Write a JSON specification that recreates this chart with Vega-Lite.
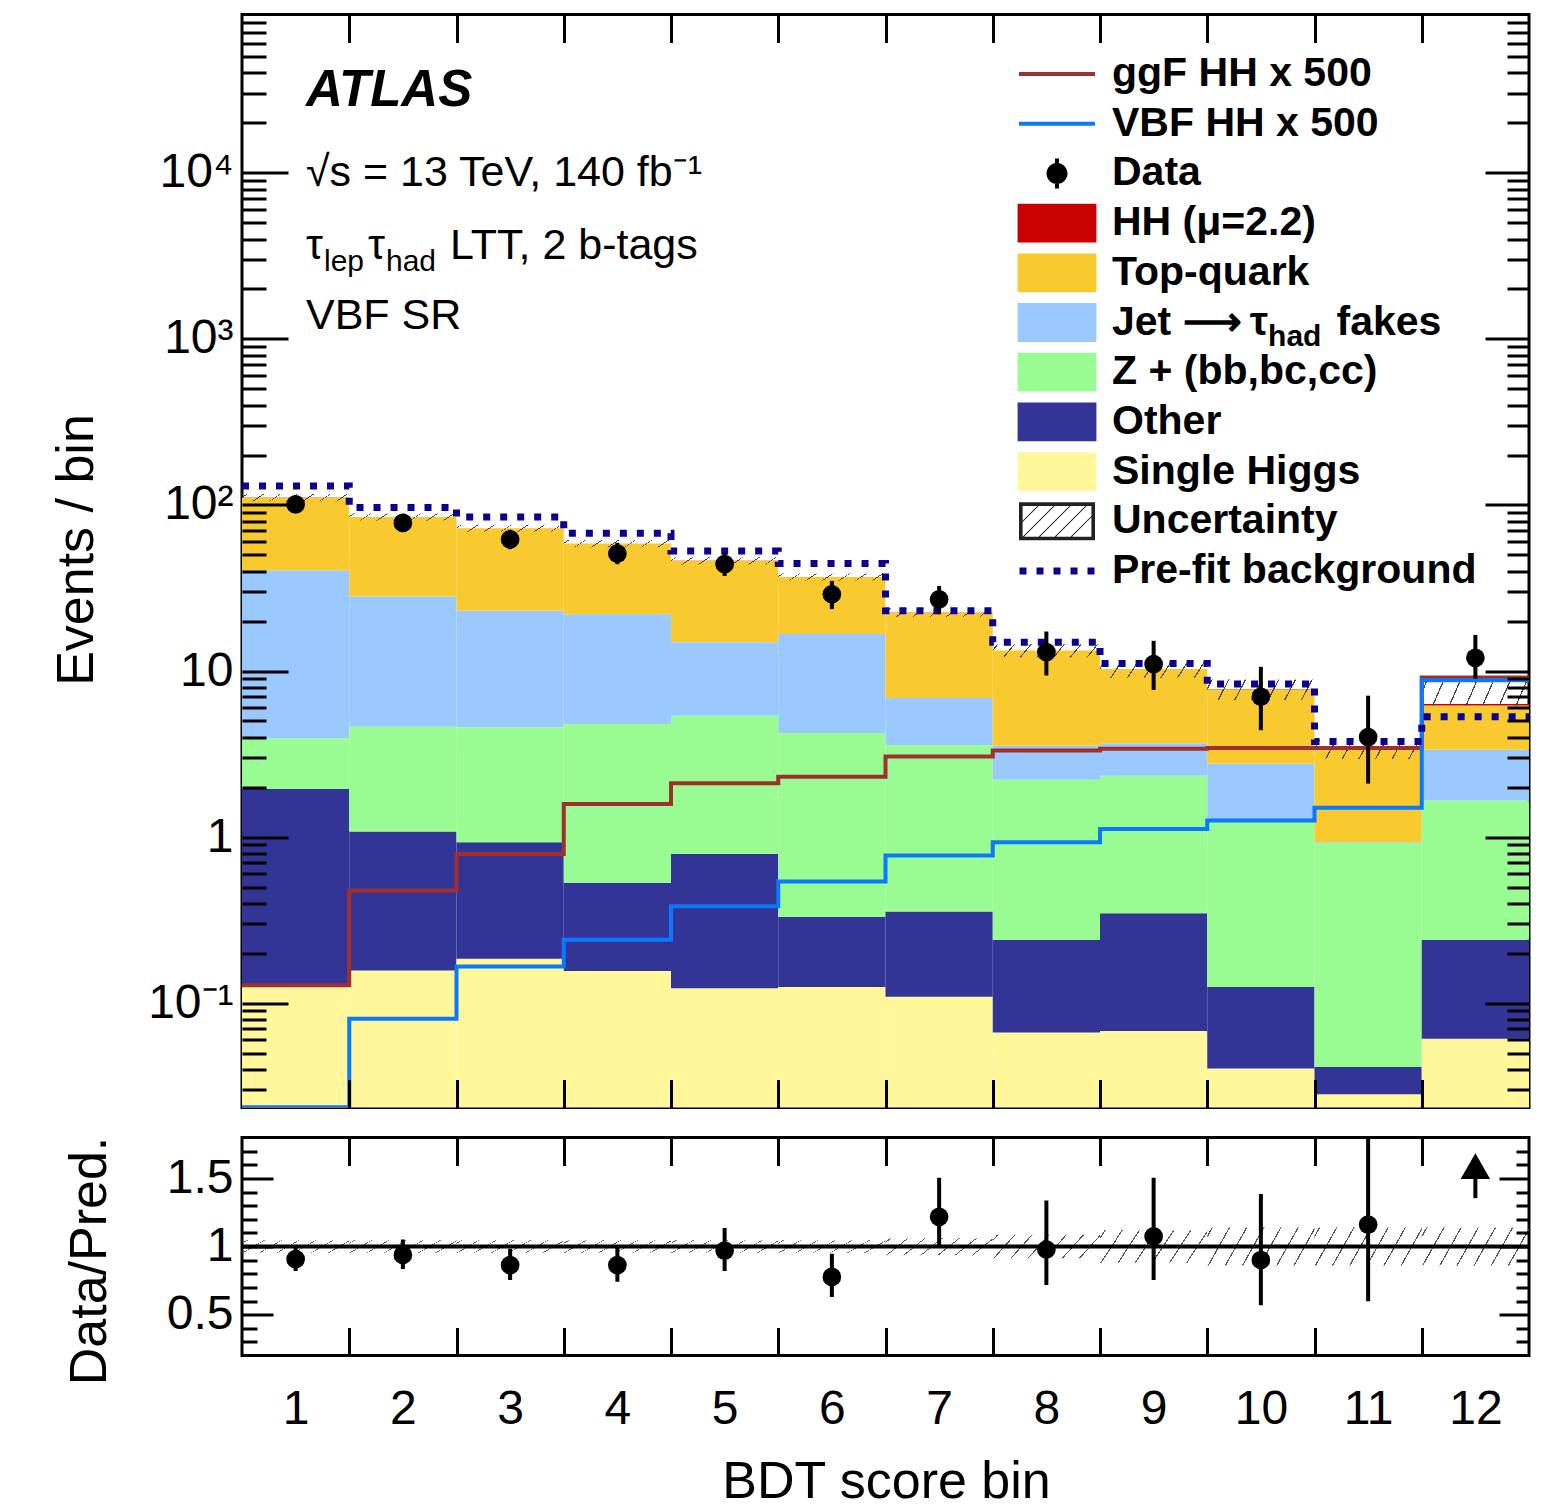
{
  "$schema": "https://vega.github.io/schema/vega-lite/v6.json",
  "autosize": {"type": "pad"},
  "padding": {"left": 48, "top": -3.5, "right": 0, "bottom": 0},
  "background": "white",
  "datasets": {
    "stack": [
      {"bin": 1, "lo": 0.5, "hi": 1.5, "process": "Single Higgs", "bottom": 0.001, "top": 0.128},
      {"bin": 1, "lo": 0.5, "hi": 1.5, "process": "Other", "bottom": 0.128, "top": 1.95},
      {"bin": 1, "lo": 0.5, "hi": 1.5, "process": "Z + (bb,bc,cc)", "bottom": 1.95, "top": 3.93},
      {"bin": 1, "lo": 0.5, "hi": 1.5, "process": "Jet → τhad fakes", "bottom": 3.93, "top": 40.5},
      {"bin": 1, "lo": 0.5, "hi": 1.5, "process": "Top-quark", "bottom": 40.5, "top": 110.7},
      {"bin": 1, "lo": 0.5, "hi": 1.5, "process": "HH (μ=2.2)", "bottom": 110.7, "top": 110.8},
      {"bin": 2, "lo": 1.5, "hi": 2.5, "process": "Single Higgs", "bottom": 0.001, "top": 0.157},
      {"bin": 2, "lo": 1.5, "hi": 2.5, "process": "Other", "bottom": 0.157, "top": 1.08},
      {"bin": 2, "lo": 1.5, "hi": 2.5, "process": "Z + (bb,bc,cc)", "bottom": 1.08, "top": 4.62},
      {"bin": 2, "lo": 1.5, "hi": 2.5, "process": "Jet → τhad fakes", "bottom": 4.62, "top": 28.1},
      {"bin": 2, "lo": 1.5, "hi": 2.5, "process": "Top-quark", "bottom": 28.1, "top": 84.75},
      {"bin": 2, "lo": 1.5, "hi": 2.5, "process": "HH (μ=2.2)", "bottom": 84.75, "top": 84.8},
      {"bin": 3, "lo": 2.5, "hi": 3.5, "process": "Single Higgs", "bottom": 0.001, "top": 0.185},
      {"bin": 3, "lo": 2.5, "hi": 3.5, "process": "Other", "bottom": 0.185, "top": 0.93},
      {"bin": 3, "lo": 2.5, "hi": 3.5, "process": "Z + (bb,bc,cc)", "bottom": 0.93, "top": 4.58},
      {"bin": 3, "lo": 2.5, "hi": 3.5, "process": "Jet → τhad fakes", "bottom": 4.58, "top": 23.1},
      {"bin": 3, "lo": 2.5, "hi": 3.5, "process": "Top-quark", "bottom": 23.1, "top": 72.45},
      {"bin": 3, "lo": 2.5, "hi": 3.5, "process": "HH (μ=2.2)", "bottom": 72.45, "top": 72.5},
      {"bin": 4, "lo": 3.5, "hi": 4.5, "process": "Single Higgs", "bottom": 0.001, "top": 0.156},
      {"bin": 4, "lo": 3.5, "hi": 4.5, "process": "Other", "bottom": 0.156, "top": 0.53},
      {"bin": 4, "lo": 3.5, "hi": 4.5, "process": "Z + (bb,bc,cc)", "bottom": 0.53, "top": 4.8},
      {"bin": 4, "lo": 3.5, "hi": 4.5, "process": "Jet → τhad fakes", "bottom": 4.8, "top": 22.0},
      {"bin": 4, "lo": 3.5, "hi": 4.5, "process": "Top-quark", "bottom": 22.0, "top": 58.55},
      {"bin": 4, "lo": 3.5, "hi": 4.5, "process": "HH (μ=2.2)", "bottom": 58.55, "top": 58.6},
      {"bin": 5, "lo": 4.5, "hi": 5.5, "process": "Single Higgs", "bottom": 0.001, "top": 0.123},
      {"bin": 5, "lo": 4.5, "hi": 5.5, "process": "Other", "bottom": 0.123, "top": 0.79},
      {"bin": 5, "lo": 4.5, "hi": 5.5, "process": "Z + (bb,bc,cc)", "bottom": 0.79, "top": 5.38},
      {"bin": 5, "lo": 4.5, "hi": 5.5, "process": "Jet → τhad fakes", "bottom": 5.38, "top": 14.9},
      {"bin": 5, "lo": 4.5, "hi": 5.5, "process": "Top-quark", "bottom": 14.9, "top": 46.05},
      {"bin": 5, "lo": 4.5, "hi": 5.5, "process": "HH (μ=2.2)", "bottom": 46.05, "top": 46.1},
      {"bin": 6, "lo": 5.5, "hi": 6.5, "process": "Single Higgs", "bottom": 0.001, "top": 0.125},
      {"bin": 6, "lo": 5.5, "hi": 6.5, "process": "Other", "bottom": 0.125, "top": 0.33},
      {"bin": 6, "lo": 5.5, "hi": 6.5, "process": "Z + (bb,bc,cc)", "bottom": 0.33, "top": 4.24},
      {"bin": 6, "lo": 5.5, "hi": 6.5, "process": "Jet → τhad fakes", "bottom": 4.24, "top": 16.7},
      {"bin": 6, "lo": 5.5, "hi": 6.5, "process": "Top-quark", "bottom": 16.7, "top": 36.85},
      {"bin": 6, "lo": 5.5, "hi": 6.5, "process": "HH (μ=2.2)", "bottom": 36.85, "top": 36.9},
      {"bin": 7, "lo": 6.5, "hi": 7.5, "process": "Single Higgs", "bottom": 0.001, "top": 0.109},
      {"bin": 7, "lo": 6.5, "hi": 7.5, "process": "Other", "bottom": 0.109, "top": 0.356},
      {"bin": 7, "lo": 6.5, "hi": 7.5, "process": "Z + (bb,bc,cc)", "bottom": 0.356, "top": 3.59},
      {"bin": 7, "lo": 6.5, "hi": 7.5, "process": "Jet → τhad fakes", "bottom": 3.59, "top": 6.88},
      {"bin": 7, "lo": 6.5, "hi": 7.5, "process": "Top-quark", "bottom": 6.88, "top": 22.45},
      {"bin": 7, "lo": 6.5, "hi": 7.5, "process": "HH (μ=2.2)", "bottom": 22.45, "top": 22.5},
      {"bin": 8, "lo": 7.5, "hi": 8.5, "process": "Single Higgs", "bottom": 0.001, "top": 0.0664},
      {"bin": 8, "lo": 7.5, "hi": 8.5, "process": "Other", "bottom": 0.0664, "top": 0.241},
      {"bin": 8, "lo": 7.5, "hi": 8.5, "process": "Z + (bb,bc,cc)", "bottom": 0.241, "top": 2.21},
      {"bin": 8, "lo": 7.5, "hi": 8.5, "process": "Jet → τhad fakes", "bottom": 2.21, "top": 3.55},
      {"bin": 8, "lo": 7.5, "hi": 8.5, "process": "Top-quark", "bottom": 3.55, "top": 13.27},
      {"bin": 8, "lo": 7.5, "hi": 8.5, "process": "HH (μ=2.2)", "bottom": 13.27, "top": 13.3},
      {"bin": 9, "lo": 8.5, "hi": 9.5, "process": "Single Higgs", "bottom": 0.001, "top": 0.068},
      {"bin": 9, "lo": 8.5, "hi": 9.5, "process": "Other", "bottom": 0.068, "top": 0.348},
      {"bin": 9, "lo": 8.5, "hi": 9.5, "process": "Z + (bb,bc,cc)", "bottom": 0.348, "top": 2.34},
      {"bin": 9, "lo": 8.5, "hi": 9.5, "process": "Jet → τhad fakes", "bottom": 2.34, "top": 3.67},
      {"bin": 9, "lo": 8.5, "hi": 9.5, "process": "Top-quark", "bottom": 3.67, "top": 10.27},
      {"bin": 9, "lo": 8.5, "hi": 9.5, "process": "HH (μ=2.2)", "bottom": 10.27, "top": 10.3},
      {"bin": 10, "lo": 9.5, "hi": 10.5, "process": "Single Higgs", "bottom": 0.001, "top": 0.0403},
      {"bin": 10, "lo": 9.5, "hi": 10.5, "process": "Other", "bottom": 0.0403, "top": 0.125},
      {"bin": 10, "lo": 9.5, "hi": 10.5, "process": "Z + (bb,bc,cc)", "bottom": 0.125, "top": 1.23},
      {"bin": 10, "lo": 9.5, "hi": 10.5, "process": "Jet → τhad fakes", "bottom": 1.23, "top": 2.76},
      {"bin": 10, "lo": 9.5, "hi": 10.5, "process": "Top-quark", "bottom": 2.76, "top": 7.76},
      {"bin": 10, "lo": 9.5, "hi": 10.5, "process": "HH (μ=2.2)", "bottom": 7.76, "top": 7.79},
      {"bin": 11, "lo": 10.5, "hi": 11.5, "process": "Single Higgs", "bottom": 0.001, "top": 0.0282},
      {"bin": 11, "lo": 10.5, "hi": 11.5, "process": "Other", "bottom": 0.0282, "top": 0.0412},
      {"bin": 11, "lo": 10.5, "hi": 11.5, "process": "Z + (bb,bc,cc)", "bottom": 0.0412, "top": 0.92},
      {"bin": 11, "lo": 10.5, "hi": 11.5, "process": "Jet → τhad fakes", "bottom": 0.92, "top": 0.93},
      {"bin": 11, "lo": 10.5, "hi": 11.5, "process": "Top-quark", "bottom": 0.93, "top": 3.38},
      {"bin": 11, "lo": 10.5, "hi": 11.5, "process": "HH (μ=2.2)", "bottom": 3.38, "top": 3.4},
      {"bin": 12, "lo": 11.5, "hi": 12.5, "process": "Single Higgs", "bottom": 0.001, "top": 0.061},
      {"bin": 12, "lo": 11.5, "hi": 12.5, "process": "Other", "bottom": 0.061, "top": 0.241},
      {"bin": 12, "lo": 11.5, "hi": 12.5, "process": "Z + (bb,bc,cc)", "bottom": 0.241, "top": 1.66},
      {"bin": 12, "lo": 11.5, "hi": 12.5, "process": "Jet → τhad fakes", "bottom": 1.66, "top": 3.36},
      {"bin": 12, "lo": 11.5, "hi": 12.5, "process": "Top-quark", "bottom": 3.36, "top": 6.2},
      {"bin": 12, "lo": 11.5, "hi": 12.5, "process": "HH (μ=2.2)", "bottom": 6.2, "top": 6.33}
    ],
    "unc": [
      {"bin": 1, "lo": 0.5, "hi": 1.5, "dn": 105.3, "up": 116.3},
      {"bin": 2, "lo": 1.5, "hi": 2.5, "dn": 80.6, "up": 89.0},
      {"bin": 3, "lo": 2.5, "hi": 3.5, "dn": 68.9, "up": 76.1},
      {"bin": 4, "lo": 3.5, "hi": 4.5, "dn": 55.7, "up": 61.5},
      {"bin": 5, "lo": 4.5, "hi": 5.5, "dn": 43.8, "up": 48.4},
      {"bin": 6, "lo": 5.5, "hi": 6.5, "dn": 35.1, "up": 38.7},
      {"bin": 7, "lo": 6.5, "hi": 7.5, "dn": 21.2, "up": 23.9},
      {"bin": 8, "lo": 7.5, "hi": 8.5, "dn": 12.1, "up": 14.5},
      {"bin": 9, "lo": 8.5, "hi": 9.5, "dn": 9.1, "up": 11.5},
      {"bin": 10, "lo": 9.5, "hi": 10.5, "dn": 6.7, "up": 8.9},
      {"bin": 11, "lo": 10.5, "hi": 11.5, "dn": 2.95, "up": 3.85},
      {"bin": 12, "lo": 11.5, "hi": 12.5, "dn": 6.2, "up": 8.7}
    ],
    "lines": [
      {"edge": 0.5, "ggF": 0.128, "VBF": 0.0236, "prefit": 130},
      {"edge": 1.5, "ggF": 0.477, "VBF": 0.0805, "prefit": 96.5},
      {"edge": 2.5, "ggF": 0.79, "VBF": 0.166, "prefit": 84.8},
      {"edge": 3.5, "ggF": 1.58, "VBF": 0.241, "prefit": 67.6},
      {"edge": 4.5, "ggF": 2.11, "VBF": 0.383, "prefit": 52.9},
      {"edge": 5.5, "ggF": 2.31, "VBF": 0.54, "prefit": 44.4},
      {"edge": 6.5, "ggF": 3.06, "VBF": 0.774, "prefit": 23.1},
      {"edge": 7.5, "ggF": 3.32, "VBF": 0.93, "prefit": 14.9},
      {"edge": 8.5, "ggF": 3.4, "VBF": 1.12, "prefit": 11.1},
      {"edge": 9.5, "ggF": 3.44, "VBF": 1.26, "prefit": 8.35},
      {"edge": 10.5, "ggF": 3.44, "VBF": 1.5, "prefit": 3.76},
      {"edge": 11.5, "ggF": 9.15, "VBF": 8.8, "prefit": 5.31},
      {"edge": 12.5, "ggF": 9.15, "VBF": 8.8, "prefit": 5.31}
    ],
    "data": [
      {"bin": 1, "n": 101, "lo": 91.0, "hi": 111.1},
      {"bin": 2, "n": 78, "lo": 69.3, "hi": 87.8},
      {"bin": 3, "n": 62, "lo": 54.2, "hi": 70.9},
      {"bin": 4, "n": 51, "lo": 44.0, "hi": 59.2},
      {"bin": 5, "n": 44, "lo": 37.4, "hi": 51.7},
      {"bin": 6, "n": 29, "lo": 23.6, "hi": 34.9},
      {"bin": 7, "n": 27, "lo": 22.0, "hi": 32.5},
      {"bin": 8, "n": 13, "lo": 9.4, "hi": 17.3},
      {"bin": 9, "n": 11, "lo": 7.7, "hi": 15.2},
      {"bin": 10, "n": 7, "lo": 4.4, "hi": 10.6},
      {"bin": 11, "n": 4, "lo": 2.1, "hi": 7.1},
      {"bin": 12, "n": 12, "lo": 9.0, "hi": 16.5}
    ],
    "ratio": [
      {"bin": 1, "r": 0.908, "rlo": 0.82, "rhi": 0.99},
      {"bin": 2, "r": 0.938, "rlo": 0.834, "rhi": 1.052},
      {"bin": 3, "r": 0.864, "rlo": 0.754, "rhi": 0.983},
      {"bin": 4, "r": 0.864, "rlo": 0.742, "rhi": 0.995},
      {"bin": 5, "r": 0.97, "rlo": 0.821, "rhi": 1.136},
      {"bin": 6, "r": 0.777, "rlo": 0.63, "rhi": 0.946},
      {"bin": 7, "r": 1.218, "rlo": 1.007, "rhi": 1.504},
      {"bin": 8, "r": 0.978, "rlo": 0.717, "rhi": 1.337},
      {"bin": 9, "r": 1.074, "rlo": 0.754, "rhi": 1.504},
      {"bin": 10, "r": 0.901, "rlo": 0.568, "rhi": 1.385},
      {"bin": 11, "r": 1.161, "rlo": 0.598, "rhi": 1.79}
    ],
    "rband": [
      {"bin": 1, "lo": 0.5, "hi": 1.5, "dn": 0.955, "up": 1.045},
      {"bin": 2, "lo": 1.5, "hi": 2.5, "dn": 0.955, "up": 1.045},
      {"bin": 3, "lo": 2.5, "hi": 3.5, "dn": 0.955, "up": 1.045},
      {"bin": 4, "lo": 3.5, "hi": 4.5, "dn": 0.955, "up": 1.045},
      {"bin": 5, "lo": 4.5, "hi": 5.5, "dn": 0.955, "up": 1.045},
      {"bin": 6, "lo": 5.5, "hi": 6.5, "dn": 0.955, "up": 1.045},
      {"bin": 7, "lo": 6.5, "hi": 7.5, "dn": 0.935, "up": 1.06},
      {"bin": 8, "lo": 7.5, "hi": 8.5, "dn": 0.913, "up": 1.087},
      {"bin": 9, "lo": 8.5, "hi": 9.5, "dn": 0.88, "up": 1.12},
      {"bin": 10, "lo": 9.5, "hi": 10.5, "dn": 0.86, "up": 1.14},
      {"bin": 11, "lo": 10.5, "hi": 11.5, "dn": 0.86, "up": 1.14},
      {"bin": 12, "lo": 11.5, "hi": 12.5, "dn": 0.86, "up": 1.14}
    ],
    "arrow": [
      {"bin": 12, "base": 1.355, "head": 1.59}
    ]
  },
  "spacing": 30,
  "bounds": "flush",
  "vconcat": [
    {
      "width": 1287,
      "height": 1093,
      "layer": [
        {
          "data": {"name": "stack"},
          "mark": {"type": "rect", "clip": true},
          "encoding": {
            "x": {"field": "lo", "type": "quantitative",
              "scale": {"domain": [0.5, 12.5], "nice": false, "zero": false},
              "axis": {"orient": "bottom", "zindex": 2, "values": [1.5, 2.5, 3.5, 4.5, 5.5, 6.5, 7.5, 8.5, 9.5, 10.5, 11.5], "labels": false, "tickSize": -28, "title": null}},
            "x2": {"field": "hi"},
            "y": {"field": "bottom", "type": "quantitative",
              "scale": {"type": "log", "domain": [0.0235, 90000], "nice": false},
              "axis": {"orient": "left", "zindex": 2,
                "values": [0.03, 0.04, 0.05, 0.06, 0.07, 0.08, 0.09, 0.1, 0.2, 0.3, 0.4, 0.5, 0.6, 0.7, 0.8, 0.9, 1, 2, 3, 4, 5, 6, 7, 8, 9, 10, 20, 30, 40, 50, 60, 70, 80, 90, 100, 200, 300, 400, 500, 600, 700, 800, 900, 1000, 2000, 3000, 4000, 5000, 6000, 7000, 8000, 9000, 10000, 20000, 30000, 40000, 50000, 60000, 70000, 80000],
                "labelExpr": "datum.value == 0.1 ? '10⁻¹' : datum.value == 1 ? '1' : datum.value == 10 ? '10' : datum.value == 100 ? '10²' : datum.value == 1000 ? '10³' : datum.value == 10000 ? '10⁴' : ''",
                "tickSize": {"expr": "(datum.value == 0.1 || datum.value == 1 || datum.value == 10 || datum.value == 100 || datum.value == 1000 || datum.value == 10000) ? -46 : -24"},
                "labelPadding": 55,
                "title": "Events / bin", "titleX": -150, "titleY": 535, "titleAngle": -90, "titleAlign": "center", "titleBaseline": "alphabetic"
              }},
            "y2": {"field": "top"},
            "color": {"field": "process", "type": "nominal",
              "scale": {
                "domain": ["ggF HH x 500", "VBF HH x 500", "Data", "HH (μ=2.2)", "Top-quark", "Jet → τhad fakes", "Z + (bb,bc,cc)", "Other", "Single Higgs", "Uncertainty", "Pre-fit background"],
                "range": ["#a03030", "#0a78ff", "#000000", "#c80000", "#f9c930", "#99c9ff", "#99fc93", "#323596", "#fff799", "#222222", "#0c0092"]
              },
              "legend": {
                "orient": "none", "legendX": 794.5, "legendY": 39, "title": null, "padding": 0,
                "symbolSize": 1600, "symbolStrokeWidth": 0, "symbolOpacity": 1,
                "labelFont": "Liberation Sans", "labelFontSize": 41, "labelFontWeight": "bold", "labelColor": "black",
                "labelOffset": 34.5, "rowPadding": 7.7, "labelLimit": 800,
                "labelExpr": "datum.label === 'Jet → τhad fakes' ? 'Jet ⟶\u2009τ\u00a0\u00a0\u00a0\u00a0\u00a0\u00a0fakes' : datum.label",
                "encode": {"symbols": {"update": {"shape": {"signal": "(datum.value === 'ggF HH x 500' || datum.value === 'VBF HH x 500') ? 'M-1.9,-0.1H1.9V0.1H-1.9Z' : datum.value === 'Data' ? 'M-0.525,0A0.525,0.525,0,1,0,0.525,0A0.525,0.525,0,1,0,-0.525,0Z M-0.1,-0.75V0.75H0.1V-0.75Z' : datum.value === 'Uncertainty' ? 'M-1.9,-0.95H1.9V0.95H-1.9Z M-1.72,-0.77V0.77H1.72V-0.77Z M-1.72,-0.03L-0.98,-0.77H-0.91L-1.72,0.04Z M-1.72,0.77L-0.18,-0.77H-0.11L-1.65,0.77Z M-0.92,0.77L0.62,-0.77H0.69L-0.85,0.77Z M-0.12,0.77L1.42,-0.77H1.49L-0.05,0.77Z M0.68,0.77L1.72,-0.27V-0.2L0.75,0.77Z' : datum.value === 'Pre-fit background' ? 'M-1.875,-0.175H-1.525V0.175H-1.875Z M-1.025,-0.175H-0.675V0.175H-1.025Z M-0.175,-0.175H0.175V0.175H-0.175Z M0.675,-0.175H1.025V0.175H0.675Z M1.525,-0.175H1.875V0.175H1.525Z' : 'M-1.97,-0.97H1.97V0.97H-1.97Z'"}}}}
              }
            }
          }
        },
        {
          "data": {"name": "unc"},
          "mark": {"type": "rect", "clip": true,
            "fill": {"gradient": "linear", "x1": 0, "y1": 0, "x2": 1, "y2": 0.1,
              "stops": [
                {"offset": 0, "color": "rgba(255,255,255,0)"},
                {"offset": 0.04, "color": "rgba(255,255,255,0)"}, {"offset": 0.04, "color": "#444444"}, {"offset": 0.052, "color": "#444444"}, {"offset": 0.052, "color": "rgba(255,255,255,0)"},
                {"offset": 0.194, "color": "rgba(255,255,255,0)"}, {"offset": 0.194, "color": "#444444"}, {"offset": 0.206, "color": "#444444"}, {"offset": 0.206, "color": "rgba(255,255,255,0)"},
                {"offset": 0.348, "color": "rgba(255,255,255,0)"}, {"offset": 0.348, "color": "#444444"}, {"offset": 0.36, "color": "#444444"}, {"offset": 0.36, "color": "rgba(255,255,255,0)"},
                {"offset": 0.502, "color": "rgba(255,255,255,0)"}, {"offset": 0.502, "color": "#444444"}, {"offset": 0.514, "color": "#444444"}, {"offset": 0.514, "color": "rgba(255,255,255,0)"},
                {"offset": 0.655, "color": "rgba(255,255,255,0)"}, {"offset": 0.655, "color": "#444444"}, {"offset": 0.667, "color": "#444444"}, {"offset": 0.667, "color": "rgba(255,255,255,0)"},
                {"offset": 0.809, "color": "rgba(255,255,255,0)"}, {"offset": 0.809, "color": "#444444"}, {"offset": 0.821, "color": "#444444"}, {"offset": 0.821, "color": "rgba(255,255,255,0)"},
                {"offset": 0.963, "color": "rgba(255,255,255,0)"}, {"offset": 0.963, "color": "#444444"}, {"offset": 0.975, "color": "#444444"}, {"offset": 0.975, "color": "rgba(255,255,255,0)"},
                {"offset": 1, "color": "rgba(255,255,255,0)"}
              ]}},
          "encoding": {
            "x": {"field": "lo", "type": "quantitative", "axis": null},
            "x2": {"field": "hi"},
            "y": {"field": "dn", "type": "quantitative", "axis": null},
            "y2": {"field": "up"}
          }
        },
        {
          "data": {"name": "lines"},
          "mark": {"type": "line", "interpolate": "step-after", "clip": true, "color": "#a03030", "strokeWidth": 4},
          "encoding": {
            "x": {"field": "edge", "type": "quantitative", "axis": null},
            "y": {"field": "ggF", "type": "quantitative", "axis": null}
          }
        },
        {
          "data": {"name": "lines"},
          "mark": {"type": "line", "interpolate": "step-after", "clip": true, "color": "#0a78ff", "strokeWidth": 4},
          "encoding": {
            "x": {"field": "edge", "type": "quantitative", "axis": null},
            "y": {"field": "VBF", "type": "quantitative", "axis": null}
          }
        },
        {
          "data": {"name": "lines"},
          "mark": {"type": "line", "interpolate": "step-after", "clip": true, "color": "#0c0092", "strokeWidth": 7, "strokeDash": [7, 10], "strokeCap": "butt"},
          "encoding": {
            "x": {"field": "edge", "type": "quantitative",
              "axis": {"orient": "top", "zindex": 2, "values": [1.5, 2.5, 3.5, 4.5, 5.5, 6.5, 7.5, 8.5, 9.5, 10.5, 11.5], "labels": false, "tickSize": -28, "title": null}},
            "y": {"field": "prefit", "type": "quantitative",
              "axis": {"orient": "right", "zindex": 2,
                "values": [0.03, 0.04, 0.05, 0.06, 0.07, 0.08, 0.09, 0.1, 0.2, 0.3, 0.4, 0.5, 0.6, 0.7, 0.8, 0.9, 1, 2, 3, 4, 5, 6, 7, 8, 9, 10, 20, 30, 40, 50, 60, 70, 80, 90, 100, 200, 300, 400, 500, 600, 700, 800, 900, 1000, 2000, 3000, 4000, 5000, 6000, 7000, 8000, 9000, 10000, 20000, 30000, 40000, 50000, 60000, 70000, 80000],
                "labels": false, "title": null,
                "tickSize": {"expr": "(datum.value == 0.1 || datum.value == 1 || datum.value == 10 || datum.value == 100 || datum.value == 1000 || datum.value == 10000) ? -44 : -22"}
              }}
          }
        },
        {
          "data": {"name": "data"},
          "mark": {"type": "rule", "clip": true, "color": "black", "strokeWidth": 4},
          "encoding": {
            "x": {"field": "bin", "type": "quantitative", "axis": null},
            "y": {"field": "lo", "type": "quantitative", "axis": null},
            "y2": {"field": "hi"}
          }
        },
        {
          "data": {"name": "data"},
          "mark": {"type": "point", "shape": "circle", "filled": true, "color": "black", "opacity": 1, "size": 350},
          "encoding": {
            "x": {"field": "bin", "type": "quantitative", "axis": null},
            "y": {"field": "n", "type": "quantitative", "axis": null}
          }
        },
        {
          "data": {"values": [{}]},
          "mark": {"type": "text", "align": "left", "baseline": "alphabetic", "font": "Liberation Sans", "fontSize": 51, "fontWeight": "bold", "fontStyle": "italic", "color": "black"},
          "encoding": {
            "x": {"datum": 1.0967, "type": "quantitative", "axis": null},
            "y": {"datum": 25200, "type": "quantitative", "axis": null},
            "text": {"value": "ATLAS"}
          }
        },
        {
          "data": {"values": [{}]},
          "mark": {"type": "text", "align": "left", "baseline": "alphabetic", "font": "Liberation Sans", "fontSize": 43, "color": "black"},
          "encoding": {
            "x": {"datum": 1.0967, "type": "quantitative", "axis": null},
            "y": {"datum": 8318, "type": "quantitative", "axis": null},
            "text": {"value": "√s = 13 TeV, 140 fb⁻¹"}
          }
        },
        {
          "data": {"values": [{}]},
          "mark": {"type": "text", "align": "left", "baseline": "alphabetic", "font": "Liberation Sans", "fontSize": 43, "color": "black"},
          "encoding": {
            "x": {"datum": 1.0967, "type": "quantitative", "axis": null},
            "y": {"datum": 3027, "type": "quantitative", "axis": null},
            "text": {"value": "τ"}
          }
        },
        {
          "data": {"values": [{}]},
          "mark": {"type": "text", "align": "left", "baseline": "alphabetic", "font": "Liberation Sans", "fontSize": 30, "color": "black", "dx": 18, "dy": 12},
          "encoding": {
            "x": {"datum": 1.0967, "type": "quantitative", "axis": null},
            "y": {"datum": 3027, "type": "quantitative", "axis": null},
            "text": {"value": "lep"}
          }
        },
        {
          "data": {"values": [{}]},
          "mark": {"type": "text", "align": "left", "baseline": "alphabetic", "font": "Liberation Sans", "fontSize": 43, "color": "black", "dx": 62},
          "encoding": {
            "x": {"datum": 1.0967, "type": "quantitative", "axis": null},
            "y": {"datum": 3027, "type": "quantitative", "axis": null},
            "text": {"value": "τ"}
          }
        },
        {
          "data": {"values": [{}]},
          "mark": {"type": "text", "align": "left", "baseline": "alphabetic", "font": "Liberation Sans", "fontSize": 30, "color": "black", "dx": 80, "dy": 12},
          "encoding": {
            "x": {"datum": 1.0967, "type": "quantitative", "axis": null},
            "y": {"datum": 3027, "type": "quantitative", "axis": null},
            "text": {"value": "had"}
          }
        },
        {
          "data": {"values": [{}]},
          "mark": {"type": "text", "align": "left", "baseline": "alphabetic", "font": "Liberation Sans", "fontSize": 43, "color": "black", "dx": 144},
          "encoding": {
            "x": {"datum": 1.0967, "type": "quantitative", "axis": null},
            "y": {"datum": 3027, "type": "quantitative", "axis": null},
            "text": {"value": "LTT, 2 b-tags"}
          }
        },
        {
          "data": {"values": [{}]},
          "mark": {"type": "text", "align": "left", "baseline": "alphabetic", "font": "Liberation Sans", "fontSize": 43, "color": "black"},
          "encoding": {
            "x": {"datum": 1.0967, "type": "quantitative", "axis": null},
            "y": {"datum": 1148, "type": "quantitative", "axis": null},
            "text": {"value": "VBF SR"}
          }
        },
        {
          "data": {"values": [{}]},
          "mark": {"type": "text", "align": "left", "baseline": "alphabetic", "font": "Liberation Sans", "fontSize": 30, "fontWeight": "bold", "color": "black"},
          "encoding": {
            "x": {"datum": 10.067, "type": "quantitative", "axis": null},
            "y": {"datum": 906, "type": "quantitative", "axis": null},
            "text": {"value": "had"}
          }
        }
      ],
      "resolve": {"axis": {"x": "independent", "y": "independent"}}
    },
    {
      "width": 1287,
      "height": 218,
      "layer": [
        {
          "data": {"name": "rband"},
          "mark": {"type": "rect", "clip": true,
            "fill": {"gradient": "linear", "x1": 0, "y1": 0, "x2": 1, "y2": 0.2,
              "stops": [
                {"offset": 0, "color": "rgba(255,255,255,0)"},
                {"offset": 0.04, "color": "rgba(255,255,255,0)"}, {"offset": 0.04, "color": "#555555"}, {"offset": 0.052, "color": "#555555"}, {"offset": 0.052, "color": "rgba(255,255,255,0)"},
                {"offset": 0.194, "color": "rgba(255,255,255,0)"}, {"offset": 0.194, "color": "#555555"}, {"offset": 0.206, "color": "#555555"}, {"offset": 0.206, "color": "rgba(255,255,255,0)"},
                {"offset": 0.348, "color": "rgba(255,255,255,0)"}, {"offset": 0.348, "color": "#555555"}, {"offset": 0.36, "color": "#555555"}, {"offset": 0.36, "color": "rgba(255,255,255,0)"},
                {"offset": 0.502, "color": "rgba(255,255,255,0)"}, {"offset": 0.502, "color": "#555555"}, {"offset": 0.514, "color": "#555555"}, {"offset": 0.514, "color": "rgba(255,255,255,0)"},
                {"offset": 0.655, "color": "rgba(255,255,255,0)"}, {"offset": 0.655, "color": "#555555"}, {"offset": 0.667, "color": "#555555"}, {"offset": 0.667, "color": "rgba(255,255,255,0)"},
                {"offset": 0.809, "color": "rgba(255,255,255,0)"}, {"offset": 0.809, "color": "#555555"}, {"offset": 0.821, "color": "#555555"}, {"offset": 0.821, "color": "rgba(255,255,255,0)"},
                {"offset": 0.963, "color": "rgba(255,255,255,0)"}, {"offset": 0.963, "color": "#555555"}, {"offset": 0.975, "color": "#555555"}, {"offset": 0.975, "color": "rgba(255,255,255,0)"},
                {"offset": 1, "color": "rgba(255,255,255,0)"}
              ]}},
          "encoding": {
            "x": {"field": "lo", "type": "quantitative",
              "scale": {"domain": [0.5, 12.5], "nice": false, "zero": false},
              "axis": {"orient": "bottom", "zindex": 2,
                "values": [1, 1.5, 2, 2.5, 3, 3.5, 4, 4.5, 5, 5.5, 6, 6.5, 7, 7.5, 8, 8.5, 9, 9.5, 10, 10.5, 11, 11.5, 12],
                "labelExpr": "datum.value % 1 === 0 ? format(datum.value, 'd') : ''",
                "tickSize": {"expr": "datum.value % 1 === 0 ? 0 : -28"},
                "labelPadding": 30, "labelBaseline": "top",
                "title": "BDT score bin", "titleX": 644, "titleY": 142, "titleAlign": "center", "titleBaseline": "alphabetic"}},
            "x2": {"field": "hi"},
            "y": {"field": "dn", "type": "quantitative",
              "scale": {"domain": [0.2, 1.8], "nice": false, "zero": false},
              "axis": {"orient": "left", "zindex": 2,
                "values": [0.3, 0.4, 0.5, 0.6, 0.7, 0.8, 0.9, 1, 1.1, 1.2, 1.3, 1.4, 1.5, 1.6, 1.7],
                "labelExpr": "datum.value == 0.5 ? '0.5' : datum.value == 1 ? '1' : datum.value == 1.5 ? '1.5' : ''",
                "tickSize": {"expr": "(datum.value == 0.5 || datum.value == 1 || datum.value == 1.5) ? -31 : -15"},
                "labelPadding": 40,
                "title": "Data/Pred.", "titleX": -137, "titleY": 123, "titleAngle": -90, "titleAlign": "center", "titleBaseline": "alphabetic"}},
            "y2": {"field": "up"}
          }
        },
        {
          "data": {"values": [{}]},
          "mark": {"type": "rule", "color": "black", "strokeWidth": 4},
          "encoding": {
            "y": {"datum": 1, "type": "quantitative", "axis": null}
          }
        },
        {
          "data": {"name": "ratio"},
          "mark": {"type": "rule", "clip": true, "color": "black", "strokeWidth": 4},
          "encoding": {
            "x": {"field": "bin", "type": "quantitative", "axis": null},
            "y": {"field": "rlo", "type": "quantitative", "axis": null},
            "y2": {"field": "rhi"}
          }
        },
        {
          "data": {"name": "ratio"},
          "mark": {"type": "point", "shape": "circle", "filled": true, "color": "black", "opacity": 1, "size": 350},
          "encoding": {
            "x": {"field": "bin", "type": "quantitative",
              "axis": {"orient": "top", "zindex": 2, "values": [1.5, 2.5, 3.5, 4.5, 5.5, 6.5, 7.5, 8.5, 9.5, 10.5, 11.5], "labels": false, "tickSize": -28, "title": null}},
            "y": {"field": "r", "type": "quantitative",
              "axis": {"orient": "right", "zindex": 2,
                "values": [0.3, 0.4, 0.5, 0.6, 0.7, 0.8, 0.9, 1, 1.1, 1.2, 1.3, 1.4, 1.5, 1.6, 1.7],
                "labels": false, "title": null,
                "tickSize": {"expr": "(datum.value == 0.5 || datum.value == 1 || datum.value == 1.5) ? -30 : -13"}}}
          }
        },
        {
          "data": {"name": "arrow"},
          "mark": {"type": "rule", "color": "black", "strokeWidth": 4},
          "encoding": {
            "x": {"field": "bin", "type": "quantitative", "axis": null},
            "y": {"field": "base", "type": "quantitative", "axis": null},
            "y2": {"field": "head"}
          }
        },
        {
          "data": {"name": "arrow"},
          "mark": {"type": "point", "shape": "triangle-up", "filled": true, "color": "black", "opacity": 1, "size": 870},
          "encoding": {
            "x": {"field": "bin", "type": "quantitative", "axis": null},
            "y": {"field": "head", "type": "quantitative", "axis": null}
          }
        }
      ],
      "resolve": {"axis": {"x": "independent", "y": "independent"}}
    }
  ],
  "config": {
    "view": {"stroke": "black", "strokeWidth": 3},
    "font": "Liberation Sans",
    "axis": {"zindex": 2, "domain": false, "grid": false, "tickColor": "black", "tickWidth": 3, "labelColor": "black", "labelFont": "Liberation Sans", "labelFontSize": 48, "titleFont": "Liberation Sans", "titleFontSize": 52, "titleFontWeight": "normal", "titleColor": "black", "labelOverlap": false, "labelFlush": false}
  }
}
